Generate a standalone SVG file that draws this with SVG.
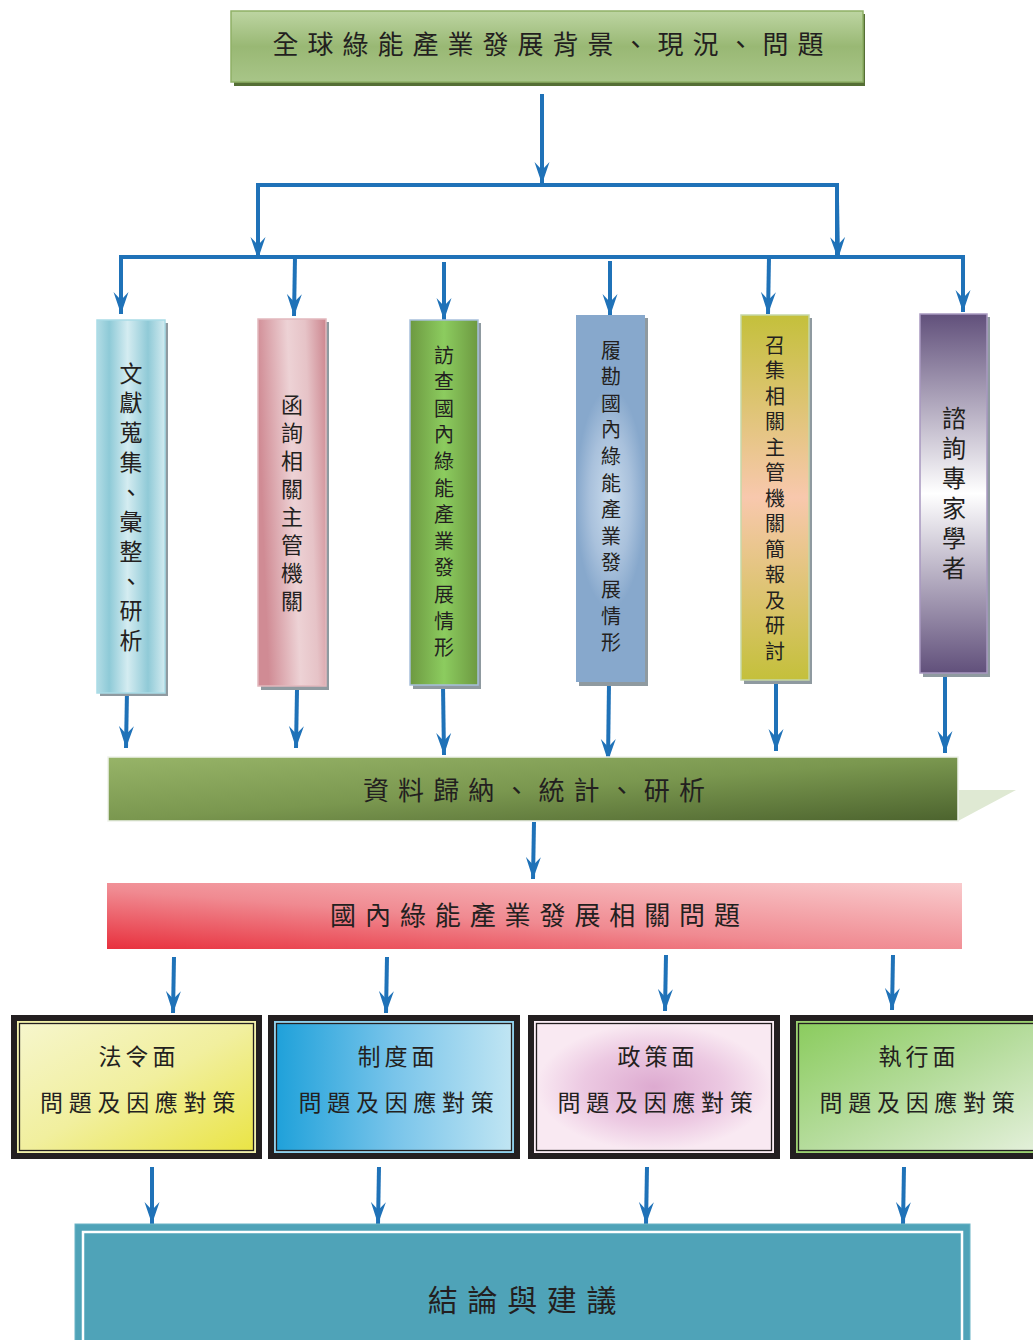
<svg xmlns="http://www.w3.org/2000/svg" width="1033" height="1340" viewBox="0 0 1033 1340">
<defs>
<style>
.t{font-family:"Noto Sans CJK TC","Noto Sans CJK SC",sans-serif;fill:#231f20;text-anchor:middle;dominant-baseline:central}
.v{font-family:"Noto Sans CJK TC","Noto Sans CJK SC",sans-serif;fill:#231f20;writing-mode:vertical-rl;text-anchor:start}
.c{stroke:#1f72b8;stroke-width:4;fill:none;marker-end:url(#ah)}
.l{stroke:#1f72b8;stroke-width:4;fill:none}
.sh{fill:#8f9aa0}
</style>
<marker id="ah" markerUnits="userSpaceOnUse" viewBox="0 0 24 16" refX="22" refY="8" markerWidth="24" markerHeight="16" orient="auto">
<path d="M22,8 L0,0.5 L8,8 L0,15.5 Z" fill="#1f72b8"/>
</marker>
<linearGradient id="gTop" x1="0" y1="0" x2="0" y2="1"><stop offset="0" stop-color="#bdd5a2"/><stop offset="0.5" stop-color="#99b874"/><stop offset="1" stop-color="#a8c588"/></linearGradient>
<linearGradient id="g1" x1="0" y1="0" x2="1" y2="0"><stop offset="0" stop-color="#b2dce5"/><stop offset="0.18" stop-color="#8ecad7"/><stop offset="0.45" stop-color="#d4ecf1"/><stop offset="0.75" stop-color="#90cad7"/><stop offset="1" stop-color="#d3ebf0"/></linearGradient>
<linearGradient id="g2" x1="0" y1="0.2" x2="1" y2="0"><stop offset="0" stop-color="#d08b94"/><stop offset="0.45" stop-color="#edd2d5"/><stop offset="0.7" stop-color="#e6c3c7"/><stop offset="1" stop-color="#cc858e"/></linearGradient>
<linearGradient id="g3" x1="0" y1="0" x2="1" y2="0"><stop offset="0" stop-color="#6d9941"/><stop offset="0.5" stop-color="#8ccc5f"/><stop offset="1" stop-color="#6d9941"/></linearGradient>
<radialGradient id="g4" cx="0.5" cy="0.5" r="0.5" fx="0.5" fy="0.5" gradientTransform="translate(0.5 0.5) scale(1 0.6) translate(-0.5 -0.5)"><stop offset="0" stop-color="#c9dbec"/><stop offset="0.6" stop-color="#a9c1dc"/><stop offset="1" stop-color="#87a8cc"/></radialGradient>
<linearGradient id="g5" x1="0" y1="0" x2="0" y2="1"><stop offset="0" stop-color="#c4c03b"/><stop offset="0.5" stop-color="#f8c8ad"/><stop offset="1" stop-color="#c4c03b"/></linearGradient>
<linearGradient id="g6" x1="0" y1="0" x2="0" y2="1"><stop offset="0" stop-color="#61507b"/><stop offset="0.5" stop-color="#ffffff"/><stop offset="1" stop-color="#61507b"/></linearGradient>
<linearGradient id="gGreen" x1="0" y1="0" x2="1" y2="1"><stop offset="0" stop-color="#97b468"/><stop offset="0.5" stop-color="#7a974f"/><stop offset="1" stop-color="#4c632e"/></linearGradient>
<linearGradient id="gRed" x1="0" y1="1" x2="1" y2="0"><stop offset="0" stop-color="#e8303d"/><stop offset="0.45" stop-color="#f08a91"/><stop offset="1" stop-color="#f9cbcd"/></linearGradient>
<linearGradient id="b1" x1="0" y1="0" x2="1" y2="1"><stop offset="0" stop-color="#f6f6cc"/><stop offset="0.5" stop-color="#f1ef9e"/><stop offset="1" stop-color="#eae445"/></linearGradient>
<linearGradient id="b2" x1="0" y1="0" x2="1" y2="0"><stop offset="0" stop-color="#1fa1da"/><stop offset="0.5" stop-color="#78c4ea"/><stop offset="1" stop-color="#c0e5f3"/></linearGradient>
<radialGradient id="b3" cx="0.5" cy="0.5" r="0.5"><stop offset="0" stop-color="#ddaad0"/><stop offset="0.6" stop-color="#ecc9e2"/><stop offset="1" stop-color="#f9e9f2"/></radialGradient>
<linearGradient id="b4" x1="0" y1="0" x2="1" y2="1"><stop offset="0" stop-color="#8bcc5e"/><stop offset="0.5" stop-color="#b5dc9c"/><stop offset="1" stop-color="#e4f0db"/></linearGradient>
</defs>

<g id="connectors">
<line class="c" x1="542" y1="94" x2="542" y2="184"/>
<polyline class="l" points="258,258 258,185 837,185 837,258"/>
<line class="c" x1="258" y1="200" x2="258" y2="259"/>
<line class="c" x1="837" y1="200" x2="838" y2="259"/>
<polyline class="l" points="121,300 121,257 963,257 963,300"/>
<line class="c" x1="121" y1="257" x2="121" y2="314"/>
<line class="c" x1="295" y1="257" x2="294" y2="316"/>
<line class="c" x1="444" y1="262" x2="444" y2="320"/>
<line class="c" x1="610" y1="261" x2="610" y2="316"/>
<line class="c" x1="769" y1="257" x2="768" y2="314"/>
<line class="c" x1="963" y1="257" x2="963" y2="312"/>
<line class="c" x1="127" y1="691" x2="126" y2="748"/>
<line class="c" x1="297" y1="690" x2="296" y2="748"/>
<line class="c" x1="443" y1="686" x2="444" y2="755"/>
<line class="c" x1="609" y1="683" x2="608" y2="761"/>
<line class="c" x1="776" y1="683" x2="776" y2="751"/>
<line class="c" x1="945" y1="675" x2="945" y2="753"/>
<line class="c" x1="534" y1="822" x2="533" y2="879"/>
<line class="c" x1="174" y1="957" x2="173" y2="1013"/>
<line class="c" x1="387" y1="957" x2="386" y2="1013"/>
<line class="c" x1="666" y1="955" x2="665" y2="1011"/>
<line class="c" x1="893" y1="955" x2="892" y2="1010"/>
<line class="c" x1="152" y1="1167" x2="152" y2="1224"/>
<line class="c" x1="379" y1="1167" x2="378" y2="1224"/>
<line class="c" x1="647" y1="1167" x2="646" y2="1224"/>
<line class="c" x1="904" y1="1167" x2="903" y2="1224"/>
</g>

<g id="top">
<rect x="234" y="14" width="631" height="72" fill="#556f35"/>
<rect x="231" y="11" width="632" height="71" fill="url(#gTop)" stroke="#8eb066" stroke-width="1.5"/>
<text class="t" x="552.5" y="42" font-size="26" letter-spacing="9">全球綠能產業發展背景、現況、問題</text>
</g>

<g id="box1">
<rect class="sh" x="100" y="323" width="68" height="373"/>
<rect x="97" y="320" width="68" height="373" fill="url(#g1)" stroke="#a9dbe6" stroke-width="1.5"/>
<text class="v" x="131" y="361.5" font-size="23" letter-spacing="6.7">文獻蒐集、彙整、研析</text>
</g>

<g id="box2">
<rect class="sh" x="261" y="322" width="68" height="368" fill="#a78088"/>
<rect x="258" y="319" width="68" height="367" fill="url(#g2)" stroke="#e2b8bd" stroke-width="1.5"/>
<text class="v" x="292" y="394" font-size="22" letter-spacing="6">函詢相關主管機關</text>
</g>

<g id="box3">
<rect class="sh" x="413" y="323" width="68" height="366"/>
<rect x="410" y="320" width="68" height="365" fill="url(#g3)" stroke="#a8c0dc" stroke-width="1.5"/>
<text class="v" x="444" y="345" font-size="20" letter-spacing="6.6">訪查國內綠能產業發展情形</text>
</g>

<g id="box4">
<rect class="sh" x="579" y="318" width="69" height="368"/>
<rect x="576" y="315" width="69" height="367" fill="url(#g4)"/>
<text class="v" x="611" y="340" font-size="20" letter-spacing="6.6">履勘國內綠能產業發展情形</text>
</g>

<g id="box5">
<rect class="sh" x="744" y="318" width="68" height="366" fill="#9aa58a"/>
<rect x="741" y="315" width="68" height="365" fill="url(#g5)" stroke="#c6d7a6" stroke-width="1.5"/>
<text class="v" x="775" y="335" font-size="20" letter-spacing="5.5">召集相關主管機關簡報及研討</text>
</g>

<g id="box6">
<rect class="sh" x="923" y="317" width="67" height="360"/>
<rect x="920" y="314" width="67" height="359" fill="url(#g6)" stroke="#a898c0" stroke-width="1.5"/>
<text class="v" x="954" y="406" font-size="24" letter-spacing="6">諮詢專家學者</text>
</g>

<g id="analysis">
<polygon points="958,790 1016,790 958,821" fill="#dfe9d3"/>
<rect x="108" y="757" width="850" height="64" fill="url(#gGreen)" stroke="#eef2ea" stroke-width="1.5"/>
<text class="t" x="538.5" y="788" font-size="26" letter-spacing="9.1">資料歸納、統計、研析</text>
</g>

<g id="issues">
<rect x="107" y="883" width="855" height="66" fill="url(#gRed)"/>
<text class="t" x="539.5" y="913" font-size="26" letter-spacing="8.9">國內綠能產業發展相關問題</text>
</g>

<g id="law">
<rect x="11" y="1015" width="251" height="144" fill="#231f20"/>
<rect x="17.5" y="1021.5" width="238" height="131" fill="#f3f2b0" stroke="#f2f0a8" stroke-width="1"/>
<rect x="19.5" y="1023.5" width="234" height="127" fill="url(#b1)" stroke="#231f20" stroke-width="1.3"/>
<text class="t" x="139" y="1055" font-size="23" letter-spacing="4">法令面</text>
<text class="t" x="140.5" y="1101" font-size="23" letter-spacing="5.7">問題及因應對策</text>
</g>

<g id="system">
<rect x="268" y="1015" width="252" height="144" fill="#231f20"/>
<rect x="274.5" y="1021.5" width="239" height="131" fill="#9fd7ef" stroke="#8ad0ee" stroke-width="1"/>
<rect x="276.5" y="1023.5" width="235" height="127" fill="url(#b2)" stroke="#231f20" stroke-width="1.3"/>
<text class="t" x="398" y="1055" font-size="23" letter-spacing="4">制度面</text>
<text class="t" x="399" y="1101" font-size="23" letter-spacing="5.7">問題及因應對策</text>
</g>

<g id="policy">
<rect x="528" y="1015" width="252" height="144" fill="#231f20"/>
<rect x="534.5" y="1021.5" width="239" height="131" fill="#fbeef5" stroke="#fbeef5" stroke-width="1"/>
<rect x="536.5" y="1023.5" width="235" height="127" fill="url(#b3)" stroke="#231f20" stroke-width="1.3"/>
<text class="t" x="658" y="1055" font-size="23" letter-spacing="4">政策面</text>
<text class="t" x="658" y="1101" font-size="23" letter-spacing="5.7">問題及因應對策</text>
</g>

<g id="execution">
<rect x="790" y="1015" width="250" height="144" fill="#231f20"/>
<rect x="796.5" y="1021.5" width="245" height="131" fill="#9bd070" stroke="#9bd070" stroke-width="1"/>
<rect x="798.5" y="1023.5" width="241" height="127" fill="url(#b4)" stroke="#231f20" stroke-width="1.3"/>
<text class="t" x="919" y="1055" font-size="23" letter-spacing="4">執行面</text>
<text class="t" x="920" y="1101" font-size="23" letter-spacing="5.7">問題及因應對策</text>
</g>

<g id="conclusion">
<rect x="75" y="1224" width="895" height="130" fill="#4fa3b8" stroke="#6ab4c6" stroke-width="1"/>
<rect x="83" y="1232" width="879" height="120" fill="#4fa3b8" stroke="#ffffff" stroke-width="2.5"/>
<text class="t" x="527" y="1298" font-size="30" letter-spacing="9.7">結論與建議</text>
</g>
</svg>
